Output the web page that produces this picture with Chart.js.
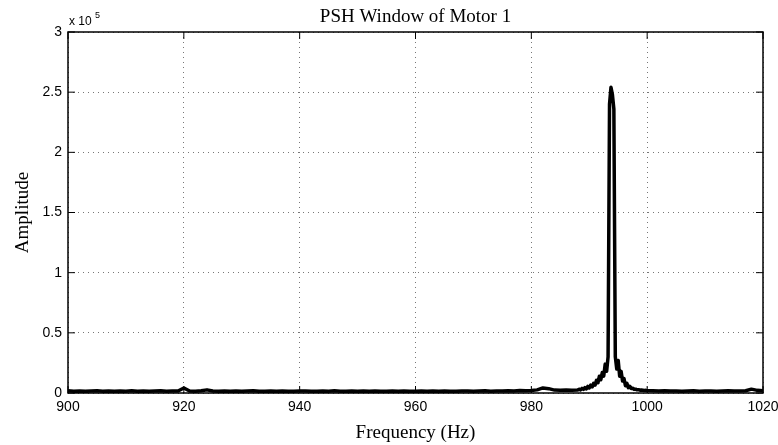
<!DOCTYPE html>
<html>
<head>
<meta charset="utf-8">
<script src="https://cdn.jsdelivr.net/npm/chart.js@4/dist/chart.umd.min.js"></script>
<style>
  html, body { margin: 0; padding: 0; background: #fff; }
  #wrap { width: 778px; height: 445px; }
</style>
</head>
<body>
<div id="wrap"><canvas id="pshChart" width="778" height="445"></canvas></div>
<script>
// Spectrum around the PSH window (frequency in Hz, amplitude)
const freqs = [
  900, 901, 902, 903, 904, 905, 906, 907, 908, 909,
  910, 911, 912, 913, 914, 915, 916, 917, 918, 919,
  920, 921, 922, 923, 924, 925, 926, 927, 928, 929,
  930, 931, 932, 933, 934, 935, 936, 937, 938, 939,
  940, 941, 942, 943, 944, 945, 946, 947, 948, 949,
  950, 951, 952, 953, 954, 955, 956, 957, 958, 959,
  960, 961, 962, 963, 964, 965, 966, 967, 968, 969,
  970, 971, 972, 973, 974, 975, 976, 977, 978, 979,
  980, 981, 982, 983, 984, 985, 986, 987,
  988, 988.25, 988.5, 988.75, 989, 989.25, 989.5, 989.75,
  990, 990.25, 990.5, 990.75, 991, 991.25, 991.5, 991.75,
  992, 992.25, 992.5, 992.75, 993, 993.25, 993.5, 993.75,
  994, 994.25, 994.5, 994.75, 995, 995.25, 995.5, 995.75,
  996, 996.25, 996.5, 996.75, 997, 997.25, 997.5, 997.75,
  998, 998.25, 998.5, 998.75, 999, 999.25, 999.5, 999.75,
  1000, 1001, 1002, 1003, 1004, 1005, 1006, 1007, 1008, 1009,
  1010, 1011, 1012, 1013, 1014, 1015, 1016, 1017, 1018, 1019, 1020
];
const amps = [
  1800, 1500, 1700, 1400, 1600, 1900, 1500, 1700, 1400, 1600,
  1500, 1800, 1400, 1600, 1500, 1700, 1900, 1500, 1600, 1700,
  4200, 1600, 1500, 1800, 2600, 1700, 1500, 1600, 1400, 1700,
  1500, 1600, 1800, 1400, 1500, 1700, 1500, 1600, 1400, 1500,
  1600, 1700, 1500, 1400, 1600, 1500, 1800, 1500, 1400, 1600,
  1500, 1700, 1400, 1600, 1500, 1500, 1700, 1400, 1600, 1500,
  1500, 1600, 1400, 1700, 1500, 1600, 1500, 1400, 1600, 1700,
  1500, 1600, 1800, 1500, 1700, 1600, 1900, 1700, 2000, 1800,
  2100, 2600, 4200, 3600, 2400, 2200, 2500, 2300,
  2500, 3200, 2600, 3800, 3000, 4500, 3500, 5500,
  4200, 6500, 5000, 8000, 6500, 10500, 8500, 14000,
  11000, 17000, 14000, 24000, 18000, 30000, 240000, 254000,
  248000, 236000, 30000, 20000, 27000, 14000, 18000, 10000,
  12000, 6000, 8000, 4500, 5500, 3800, 4000, 3000,
  3200, 2600, 2800, 2300, 2500, 2300, 2100, 2200,
  2000, 1900, 1700, 1800, 1600, 1700, 1500, 1600, 1800, 1500,
  1600, 1700, 1500, 1600, 1800, 1700, 1600, 1900, 3200, 2200, 1800
];
const xTicks = [900, 920, 940, 960, 980, 1000, 1020];
const yTicks = [0, 50000, 100000, 150000, 200000, 250000, 300000];

const points = freqs.map((f, i) => ({ x: f, y: amps[i] }));

// MATLAB-like box, inward ticks, titles and exponent label
const matlabFrame = {
  id: 'matlabFrame',
  afterDraw(chart) {
    const { ctx, chartArea: a, scales } = chart;
    ctx.save();
    ctx.strokeStyle = '#000';
    ctx.lineWidth = 1.5;
    ctx.strokeRect(a.left, a.top, a.right - a.left, a.bottom - a.top);
    ctx.lineWidth = 1;
    ctx.beginPath();
    xTicks.forEach(v => {
      const px = scales.x.getPixelForValue(v);
      ctx.moveTo(px, a.bottom); ctx.lineTo(px, a.bottom - 7);
      ctx.moveTo(px, a.top); ctx.lineTo(px, a.top + 7);
    });
    yTicks.forEach(v => {
      const py = scales.y.getPixelForValue(v);
      ctx.moveTo(a.left, py); ctx.lineTo(a.left + 7, py);
      ctx.moveTo(a.right, py); ctx.lineTo(a.right - 7, py);
    });
    ctx.stroke();

    ctx.fillStyle = '#000';
    ctx.font = '19px "Liberation Serif", serif';
    ctx.textAlign = 'center';
    ctx.textBaseline = 'alphabetic';
    ctx.fillText('PSH Window of Motor 1', (a.left + a.right) / 2, 22);
    ctx.fillText('Frequency (Hz)', (a.left + a.right) / 2, 438);

    ctx.save();
    ctx.translate(28, (a.top + a.bottom) / 2);
    ctx.rotate(-Math.PI / 2);
    ctx.fillText('Amplitude', 0, 0);
    ctx.restore();

    ctx.textAlign = 'left';
    ctx.font = '12px "Liberation Sans", sans-serif';
    ctx.fillText('x 10', a.left + 1, 25);
    ctx.font = '9px "Liberation Sans", sans-serif';
    ctx.fillText('5', a.left + 27, 18);
    ctx.restore();
  }
};

const ctx = document.getElementById('pshChart').getContext('2d');
new Chart(ctx, {
  type: 'line',
  data: {
    datasets: [{
      data: points,
      borderColor: '#000',
      borderWidth: 3.5,
      borderJoinStyle: 'round',
      pointRadius: 0,
      tension: 0,
      fill: false
    }]
  },
  options: {
    responsive: false,
    animation: false,
    layout: { padding: { top: 32, right: 15, left: 0, bottom: 0 } },
    plugins: {
      legend: { display: false },
      tooltip: { enabled: false }
    },
    scales: {
      x: {
        type: 'linear',
        min: 900,
        max: 1020,
        afterBuildTicks: s => { s.ticks = xTicks.map(v => ({ value: v })); },
        afterFit: s => { s.height = 52; s.paddingLeft = 0; s.paddingRight = 0; },
        grid: { color: '#777', lineWidth: 1, drawTicks: false },
        border: { display: false, dash: [1, 4] },
        ticks: {
          color: '#000',
          padding: 6,
          maxRotation: 0,
          font: { family: '"Liberation Sans", sans-serif', size: 14 },
          callback: v => String(v)
        }
      },
      y: {
        type: 'linear',
        min: 0,
        max: 300000,
        afterBuildTicks: s => { s.ticks = yTicks.map(v => ({ value: v })); },
        afterFit: s => { s.width = 68; s.paddingTop = 0; s.paddingBottom = 0; },
        grid: { color: '#777', lineWidth: 1, drawTicks: false },
        border: { display: false, dash: [1, 4] },
        ticks: {
          color: '#000',
          padding: 6,
          font: { family: '"Liberation Sans", sans-serif', size: 14 },
          callback: v => String(v / 100000)
        }
      }
    }
  },
  plugins: [matlabFrame]
});
</script>
</body>
</html>
